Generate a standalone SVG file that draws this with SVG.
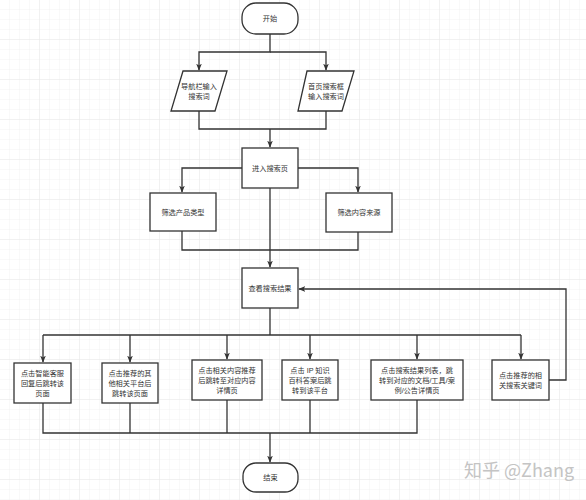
<svg xmlns="http://www.w3.org/2000/svg" width="586" height="500" viewBox="0 0 586 500">
<defs>
<pattern id="minor" width="10" height="10" patternUnits="userSpaceOnUse">
<path d="M10 0V10M0 10H10" fill="none" stroke="#f0f0f0" stroke-width="0.8"/>
</pattern>
<pattern id="major" width="40" height="40" patternUnits="userSpaceOnUse">
<rect width="40" height="40" fill="url(#minor)"/>
<path d="M40 0V40M0 40H40" fill="none" stroke="#e6e6e6" stroke-width="0.8"/>
</pattern>
<marker id="arr" viewBox="0 0 10 10" refX="9" refY="5" markerWidth="7" markerHeight="7" orient="auto" markerUnits="userSpaceOnUse">
<path d="M0 1L10 5L0 9L2.5 5Z" fill="#333"/>
</marker>
<style>
.n{fill:#fff;stroke:#333;stroke-width:1.3}
.t{font-family:"Liberation Sans","Noto Sans CJK SC",sans-serif;font-size:7.2px;fill:#333;text-anchor:middle}
.c{fill:none;stroke:#333;stroke-width:1.3}
.wm{font-family:"Noto Sans CJK SC","Liberation Sans",sans-serif;font-size:18px;fill:#c4c4c4}
</style>
</defs>
<rect width="586" height="500" fill="#fff"/>
<rect width="586" height="500" fill="url(#major)"/>

<g id="connectors">
<path class="c" d="M270 34V52H199V70" marker-end="url(#arr)"/>
<path class="c" d="M270 52H326V70" marker-end="url(#arr)"/>
<path class="c" d="M199 111V129H326V111"/>
<path class="c" d="M270 129V147" marker-end="url(#arr)"/>
<path class="c" d="M242 168H182V192" marker-end="url(#arr)"/>
<path class="c" d="M298 168H358V192" marker-end="url(#arr)"/>
<path class="c" d="M182 231V250H358V232"/>
<path class="c" d="M270 188V267" marker-end="url(#arr)"/>
<path class="c" d="M270 308V335"/>
<path class="c" d="M43 335H521"/>
<path class="c" d="M43 335V362" marker-end="url(#arr)"/>
<path class="c" d="M130 335V362" marker-end="url(#arr)"/>
<path class="c" d="M227 335V359" marker-end="url(#arr)"/>
<path class="c" d="M310 335V359" marker-end="url(#arr)"/>
<path class="c" d="M417 335V359" marker-end="url(#arr)"/>
<path class="c" d="M521 335V359" marker-end="url(#arr)"/>
<path class="c" d="M549 380H566V289H299" marker-end="url(#arr)"/>
<path class="c" d="M43 403V433H417V400"/>
<path class="c" d="M130 403V433"/>
<path class="c" d="M227 400V433"/>
<path class="c" d="M310 400V433"/>
<path class="c" d="M270 433V462" marker-end="url(#arr)"/>
</g>

<g id="start">
<rect class="n" x="242" y="3" width="56" height="31" rx="14"/>
<text class="t" x="270" y="21">开始</text>
</g>
<g id="nav-input">
<path class="n" d="M183 71H227L215 111H171Z"/>
<text class="t" x="199" y="89">导航栏输入</text>
<text class="t" x="199" y="99">搜索词</text>
</g>
<g id="home-input">
<path class="n" d="M307 71H354L342 111H298Z"/>
<text class="t" x="326" y="89">首页搜索框</text>
<text class="t" x="326" y="99">输入搜索词</text>
</g>
<g id="search-page">
<rect class="n" x="242" y="148" width="56" height="40"/>
<text class="t" x="270" y="171">进入搜索页</text>
</g>
<g id="filter-type">
<rect class="n" x="150" y="193" width="66" height="38"/>
<text class="t" x="183" y="215">筛选产品类型</text>
</g>
<g id="filter-source">
<rect class="n" x="326" y="193" width="66" height="39"/>
<text class="t" x="359" y="215">筛选内容来源</text>
</g>
<g id="results">
<rect class="n" x="242" y="268" width="56" height="40"/>
<text class="t" x="270" y="291">查看搜索结果</text>
</g>
<g id="opt1">
<rect class="n" x="14" y="363" width="57" height="40"/>
<text class="t" x="42.5" y="376">点击智能客服</text>
<text class="t" x="42.5" y="386">回复后跳转该</text>
<text class="t" x="42.5" y="396">页面</text>
</g>
<g id="opt2">
<rect class="n" x="102" y="363" width="56" height="40"/>
<text class="t" x="130" y="376">点击推荐的其</text>
<text class="t" x="130" y="386">他相关平台后</text>
<text class="t" x="130" y="396">跳转该页面</text>
</g>
<g id="opt3">
<rect class="n" x="192" y="360" width="70" height="40"/>
<text class="t" x="227" y="373">点击相关内容推荐</text>
<text class="t" x="227" y="383">后跳转至对应内容</text>
<text class="t" x="227" y="393">详情页</text>
</g>
<g id="opt4">
<rect class="n" x="282" y="360" width="56" height="40"/>
<text class="t" x="310" y="373">点击 IP 知识</text>
<text class="t" x="310" y="383">百科答案后跳</text>
<text class="t" x="310" y="393">转到该平台</text>
</g>
<g id="opt5">
<rect class="n" x="371" y="360" width="92" height="40"/>
<text class="t" x="417" y="373">点击搜索结果列表，跳</text>
<text class="t" x="417" y="383">转到对应的文档/工具/案</text>
<text class="t" x="417" y="393">例/公告详情页</text>
</g>
<g id="opt6">
<rect class="n" x="492" y="360" width="57" height="40"/>
<text class="t" x="520.5" y="378">点击推荐的相</text>
<text class="t" x="520.5" y="388">关搜索关键词</text>
</g>
<g id="end">
<rect class="n" x="243" y="463" width="55" height="29" rx="13"/>
<text class="t" x="270.5" y="480">结束</text>
</g>
<text class="wm" x="464" y="477">知乎 @Zhang</text>
</svg>
